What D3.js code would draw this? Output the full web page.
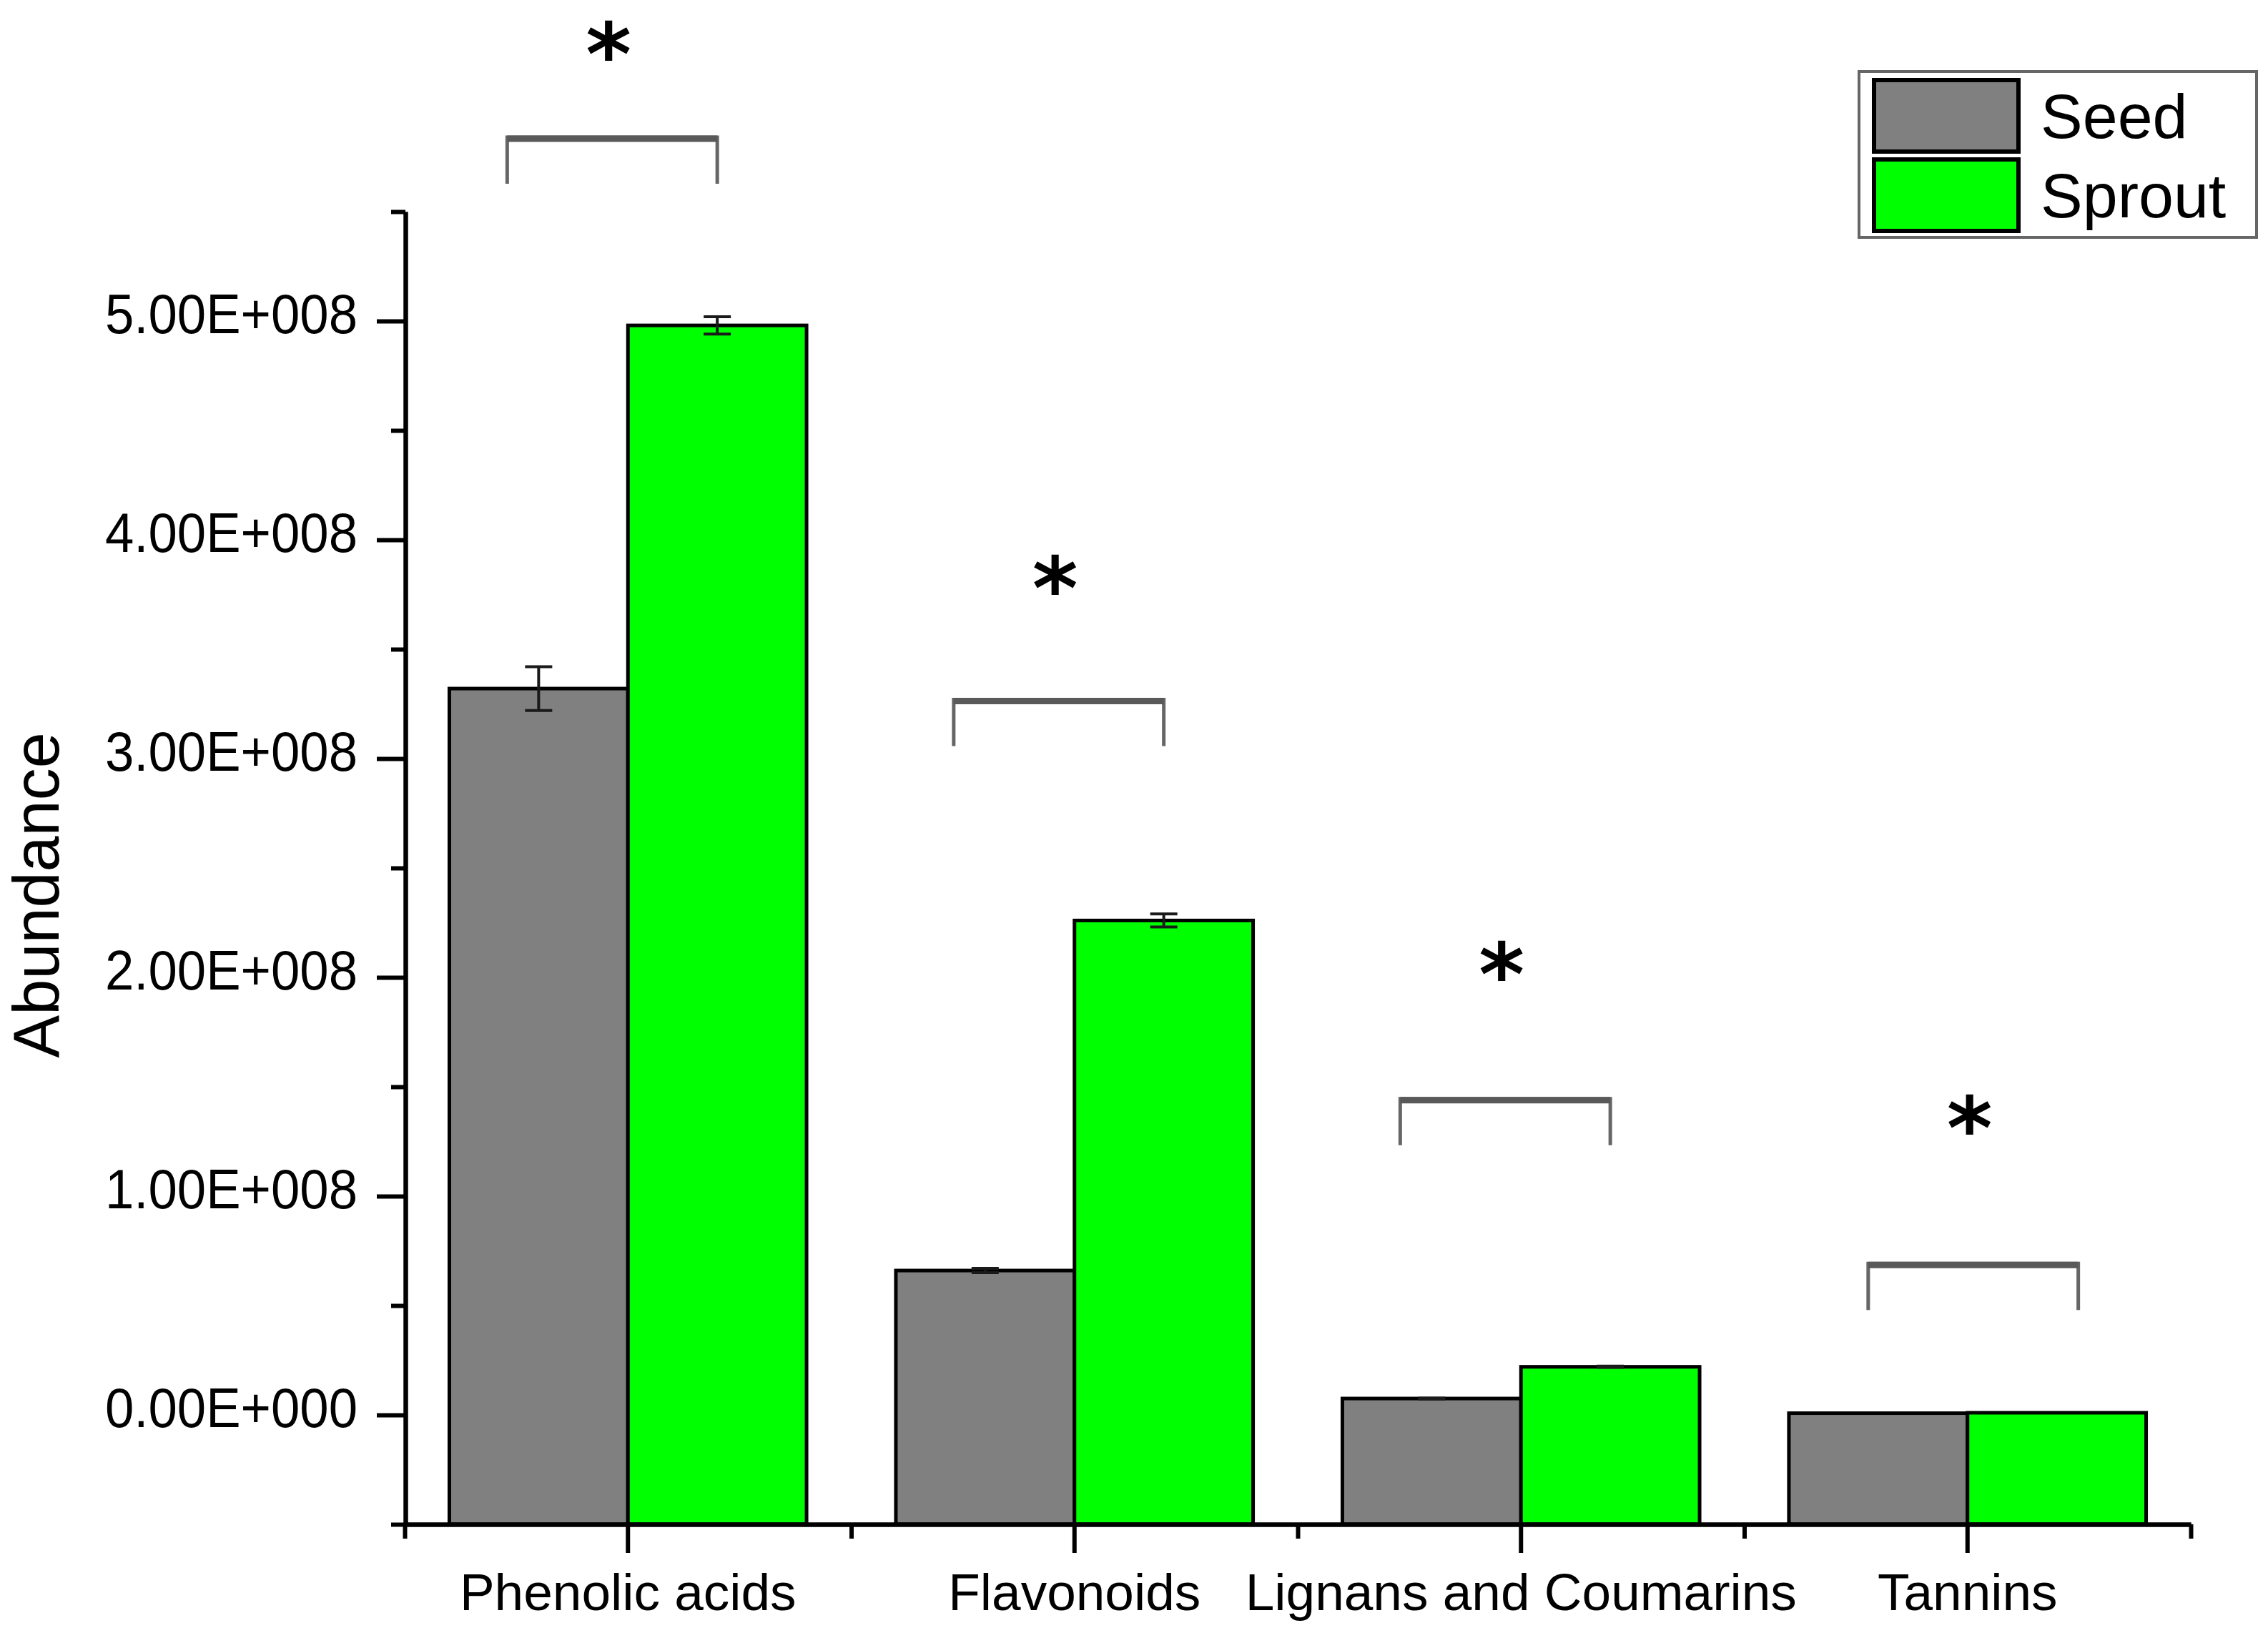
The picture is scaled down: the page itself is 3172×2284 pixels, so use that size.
<!DOCTYPE html>
<html>
<head>
<meta charset="utf-8">
<script src="https://cdn.jsdelivr.net/npm/d3@7"></script>
<style>
  body { margin: 0; background: #fff; }
  text { font-family: "Liberation Sans", Arial, sans-serif; }
</style>
</head>
<body>
<div id="chart"></div>
<script>
// values
const categories = ["Phenolic acids", "Flavonoids", "Lignans and Coumarins", "Tannins"];
const series = ["Seed", "Sprout"];
const seedValues = [3.32e8, 0.66e8, 0.075e8, 0.008e8];
const seedErrors = [0.10e8, 0.01e8, 0.002e8, 0];
const sproutValues = [4.98e8, 2.26e8, 0.22e8, 0.01e8];
const sproutErrors = [0.04e8, 0.03e8, 0.003e8, 0];
const yTickValues = [0, 1e8, 2e8, 3e8, 4e8, 5e8];
const yTickLabels = ["0.00E+000", "1.00E+008", "2.00E+008", "3.00E+008", "4.00E+008", "5.00E+008"];
const yMinorValues = [-0.5e8, 0.5e8, 1.5e8, 2.5e8, 3.5e8, 4.5e8, 5.5e8];
// significance brackets (bar level + star level, in data units)
const bracketLevels = [5.84e8, 3.27e8, 1.445e8, 0.692e8];
const starLevels = [6.27e8, 3.83e8, 2.065e8, 1.36e8];
const starLabels = ["*", "*", "*", "*"];

const W = 3172, H = 2284;
const colors = {Seed: "#808080", Sprout: "#00ff00"};

const svg = d3.select("#chart").append("svg")
    .attr("width", W)
    .attr("height", H);

svg.append("rect").attr("width", W).attr("height", H).attr("fill", "#fff");

const x0 = d3.scaleBand()
    .domain(categories)
    .range([566, 3064]);

const x1 = d3.scaleBand()
    .domain(series)
    .range([0, x0.bandwidth()])
    .paddingOuter(0.25);

const y = d3.scaleLinear()
    .domain([-0.5e8, 5.5e8])
    .range([2132, 296]);

const rows = categories.map((c, i) => ({
    category: c,
    bars: [
        {key: "Seed", value: seedValues[i], err: seedErrors[i]},
        {key: "Sprout", value: sproutValues[i], err: sproutErrors[i]}
    ]
}));

// bars
const groups = svg.append("g")
    .selectAll("g")
    .data(rows)
    .enter()
    .append("g")
    .attr("transform", d => "translate(" + x0(d.category) + ",0)");

groups.selectAll("rect")
    .data(d => d.bars)
    .enter()
    .append("rect")
    .attr("x", d => x1(d.key))
    .attr("width", x1.bandwidth())
    .attr("y", d => y(d.value))
    .attr("height", d => y(-0.5e8) - y(d.value))
    .attr("fill", d => colors[d.key])
    .attr("stroke", "#000")
    .attr("stroke-width", 5);

// error bars
const eb = groups.selectAll(".err")
    .data(d => d.bars.filter(b => b.err > 0))
    .enter()
    .append("g")
    .attr("class", "err")
    .attr("stroke", "#1a1a1a")
    .attr("stroke-width", 4);

eb.append("line")
    .attr("x1", d => x1(d.key) + x1.bandwidth() / 2)
    .attr("x2", d => x1(d.key) + x1.bandwidth() / 2)
    .attr("y1", d => y(d.value + d.err))
    .attr("y2", d => y(d.value - d.err));

[1, -1].forEach(function (s) {
    eb.append("line")
        .attr("x1", d => x1(d.key) + x1.bandwidth() / 2 - 19)
        .attr("x2", d => x1(d.key) + x1.bandwidth() / 2 + 19)
        .attr("y1", d => y(d.value + s * d.err))
        .attr("y2", d => y(d.value + s * d.err));
});

// y axis
const yAxis = svg.append("g")
    .attr("transform", "translate(567,0)")
    .call(d3.axisLeft(y)
        .tickValues(yTickValues)
        .tickSize(40)
        .tickSizeOuter(0)
        .tickPadding(27)
        .tickFormat((d, i) => yTickLabels[i]));

yAxis.selectAll("text")
    .attr("font-size", 77)
    .attr("fill", "#000")
    .attr("dy", "0.22em")
    .attr("textLength", 353)
    .attr("lengthAdjust", "spacingAndGlyphs");

svg.append("g")
    .attr("transform", "translate(567,0)")
    .call(d3.axisLeft(y)
        .tickValues(yMinorValues)
        .tickSize(20)
        .tickSizeOuter(0)
        .tickFormat(""));

// x axis
const xAxis = svg.append("g")
    .attr("transform", "translate(0,2132)")
    .call(d3.axisBottom(x0)
        .tickSize(40)
        .tickSizeOuter(0)
        .tickPadding(28));

xAxis.selectAll("text")
    .attr("font-size", 73)
    .attr("fill", "#000");

const xEdges = d3.scaleLinear().domain([0, categories.length]).range(x0.range());
svg.append("g")
    .attr("transform", "translate(0,2132)")
    .call(d3.axisBottom(xEdges)
        .tickValues(d3.range(categories.length + 1))
        .tickSize(20)
        .tickSizeOuter(0)
        .tickFormat(""));

svg.selectAll(".domain, .tick line")
    .attr("stroke", "#000")
    .attr("stroke-width", 6);

svg.append("text")
    .attr("transform", "translate(82,1252) rotate(-90)")
    .attr("text-anchor", "middle")
    .attr("font-size", 90)
    .text("Abundance");

// significance brackets
const bracketShift = [0, 0, 0, 30];
const br = svg.append("g")
    .selectAll("g")
    .data(categories)
    .enter()
    .append("g")
    .attr("transform", (d, i) => "translate(" + (x0(d) + bracketShift[i]) + ",0)");

br.append("path")
    .attr("d", (d, i) => {
        const l = x1("Seed") + x1.bandwidth() / 2 - 44, r = x1("Sprout") + x1.bandwidth() / 2;
        const t = y(bracketLevels[i]);
        return "M" + l + "," + (t + 65) + "V" + t + "H" + r + "V" + (t + 65);
    })
    .attr("fill", "none")
    .attr("stroke", "#666")
    .attr("stroke-width", 5);

br.append("line")
    .attr("x1", x1("Seed") + x1.bandwidth() / 2 - 44)
    .attr("x2", x1("Sprout") + x1.bandwidth() / 2)
    .attr("y1", (d, i) => y(bracketLevels[i]) + 2)
    .attr("y2", (d, i) => y(bracketLevels[i]) + 2)
    .attr("stroke", "#595959")
    .attr("stroke-width", 9);

br.append("text")
    .attr("x", (x1("Seed") + x1("Sprout") + x1.bandwidth()) / 2 - 27)
    .attr("y", (d, i) => y(starLevels[i]))
    .attr("dy", "0.48em")
    .attr("text-anchor", "middle")
    .style("font-family", "'DejaVu Sans', sans-serif")
    .style("font-weight", "bold")
    .attr("font-size", 122)
    .text((d, i) => starLabels[i]);

// legend
const legend = svg.append("g");
legend.append("rect")
    .attr("x", 2600).attr("y", 100)
    .attr("width", 556).attr("height", 232)
    .attr("fill", "#fff")
    .attr("stroke", "#666")
    .attr("stroke-width", 4);

const li = legend.selectAll(".item")
    .data(series)
    .enter()
    .append("g")
    .attr("class", "item")
    .attr("transform", (d, i) => "translate(2621," + (112 + i * 111) + ")");

li.append("rect")
    .attr("width", 202).attr("height", 100)
    .attr("fill", d => colors[d])
    .attr("stroke", "#000")
    .attr("stroke-width", 6);

li.append("text")
    .attr("x", 233)
    .attr("y", 81)
    .attr("font-size", 88)
    .text(d => d);
</script>
</body>
</html>
